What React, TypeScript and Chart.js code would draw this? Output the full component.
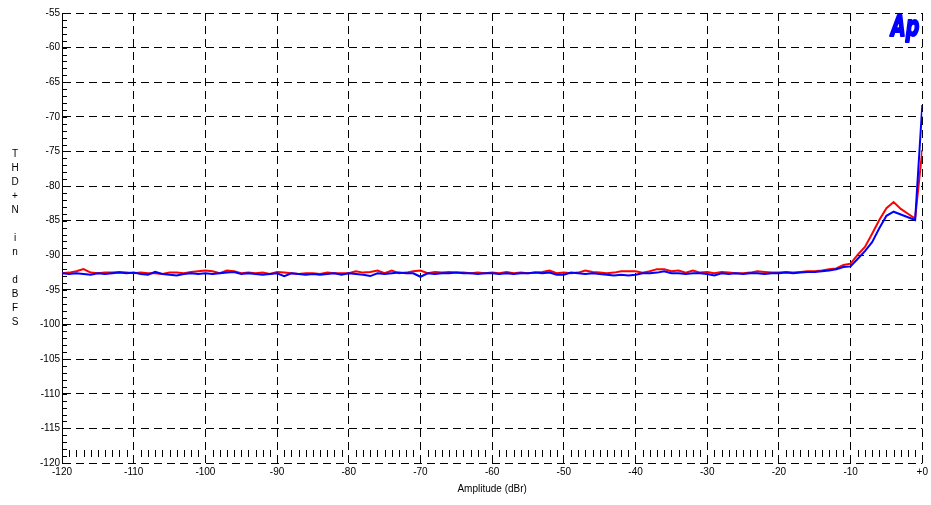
import React, { useEffect, useRef } from 'react';
import { Chart, registerables } from 'chart.js';

Chart.register(...registerables);

// Amplitude sweep (dBr)
const amplitude = [
  -120, -119, -118, -117, -116, -115, -114, -113, -112, -111,
  -110, -109, -108, -107, -106, -105, -104, -103, -102, -101,
  -100, -99, -98, -97, -96, -95, -94, -93, -92, -91,
  -90, -89, -88, -87, -86, -85, -84, -83, -82, -81,
  -80, -79, -78, -77, -76, -75, -74, -73, -72, -71,
  -70, -69, -68, -67, -66, -65, -64, -63, -62, -61,
  -60, -59, -58, -57, -56, -55, -54, -53, -52, -51,
  -50, -49, -48, -47, -46, -45, -44, -43, -42, -41,
  -40, -39, -38, -37, -36, -35, -34, -33, -32, -31,
  -30, -29, -28, -27, -26, -25, -24, -23, -22, -21,
  -20, -19, -18, -17, -16, -15, -14, -13, -12, -11,
  -10, -9, -8, -7, -6, -5, -4, -3, -2, -1,
  0,
];

// THD+N (dBFS), red channel
const redTHDN = [
  -92.6, -92.5, -92.3, -92.0, -92.5, -92.6, -92.5, -92.5, -92.4, -92.5,
  -92.6, -92.5, -92.6, -92.6, -92.7, -92.5, -92.5, -92.6, -92.4, -92.3,
  -92.2, -92.3, -92.6, -92.2, -92.3, -92.6, -92.5, -92.6, -92.5, -92.7,
  -92.4, -92.5, -92.6, -92.7, -92.6, -92.6, -92.7, -92.5, -92.6, -92.6,
  -92.6, -92.3, -92.5, -92.4, -92.2, -92.6, -92.2, -92.6, -92.5, -92.3,
  -92.2, -92.6, -92.4, -92.5, -92.4, -92.5, -92.5, -92.6, -92.5, -92.6,
  -92.5, -92.6, -92.4, -92.6, -92.5, -92.6, -92.5, -92.4, -92.2, -92.6,
  -92.5, -92.6, -92.5, -92.2, -92.4, -92.5, -92.6, -92.5, -92.3, -92.3,
  -92.3, -92.5, -92.3, -92.0, -92.0, -92.3, -92.2, -92.5, -92.2, -92.5,
  -92.4, -92.6, -92.4, -92.5, -92.6, -92.6, -92.5, -92.3, -92.4, -92.5,
  -92.5, -92.4, -92.5, -92.4, -92.3, -92.3, -92.2, -92.0, -91.9, -91.4,
  -91.2, -89.9, -88.8, -86.9, -84.9, -83.2, -82.3, -83.3, -84.0, -84.7,
  -74.8,
];

// THD+N (dBFS), blue channel
const blueTHDN = [
  -92.6, -92.7, -92.6, -92.7, -92.8, -92.6, -92.7, -92.6, -92.5, -92.6,
  -92.5, -92.7, -92.8, -92.4, -92.7, -92.8, -92.9, -92.7, -92.6, -92.7,
  -92.6, -92.7, -92.6, -92.5, -92.4, -92.7, -92.6, -92.7, -92.8, -92.7,
  -92.6, -93.0, -92.6, -92.7, -92.8, -92.7, -92.8, -92.7, -92.6, -92.8,
  -92.6, -92.7, -92.8, -93.0, -92.6, -92.7, -92.6, -92.5, -92.6, -92.6,
  -93.1, -92.6, -92.7, -92.6, -92.6, -92.5, -92.6, -92.6, -92.7, -92.6,
  -92.6, -92.7, -92.6, -92.7, -92.6, -92.6, -92.5, -92.6, -92.5, -92.8,
  -92.8, -92.5, -92.6, -92.7, -92.6, -92.7, -92.8, -92.9, -92.8, -92.9,
  -92.8, -92.6, -92.6, -92.5, -92.3, -92.6, -92.6, -92.7, -92.6, -92.6,
  -92.7, -92.9, -92.6, -92.7, -92.6, -92.7, -92.6, -92.6, -92.7, -92.6,
  -92.6, -92.5, -92.6, -92.5, -92.4, -92.4, -92.3, -92.2, -92.0, -91.7,
  -91.6, -90.5, -89.4, -88.1, -86.1, -84.3, -83.7, -84.1, -84.5, -84.9,
  -68.3,
];

const yTitleLetters = ['T', 'H', 'D', '+', 'N', '', 'i', 'n', '', 'd', 'B', 'F', 'S'];
const xTitle = 'Amplitude (dBr)';
const logoText = 'Ap';

const FONT = "'Liberation Sans Narrow', 'Liberation Sans', Arial, sans-serif";

const decor = {
  id: 'decor',
  beforeDatasetsDraw(chart: any) {
    const { ctx, chartArea: a, scales } = chart;
    const x = scales.x;
    const y = scales.y;
    ctx.save();
    ctx.strokeStyle = '#000';
    ctx.lineWidth = 1;
    ctx.beginPath();
    for (let v = y.min; v <= y.max; v++) {
      const py = Math.round(y.getPixelForValue(v)) + 0.5;
      ctx.moveTo(a.left, py);
      ctx.lineTo(a.left + 5, py);
    }
    for (let v = x.min + 1; v < x.max; v++) {
      if (v % 10 === 0) continue;
      const px = Math.round(x.getPixelForValue(v)) + 0.5;
      ctx.moveTo(px, a.bottom - 13);
      ctx.lineTo(px, a.bottom - 6);
    }
    ctx.stroke();
    ctx.restore();
  },
  afterDraw(chart: any) {
    const { ctx, chartArea: a } = chart;
    ctx.save();
    ctx.fillStyle = '#000';
    ctx.font = `10px ${FONT}`;
    ctx.textAlign = 'center';
    ctx.textBaseline = 'middle';
    const cy = (a.top + a.bottom) / 2;
    const mid = (yTitleLetters.length - 1) / 2;
    yTitleLetters.forEach((ch, i) => {
      if (ch) ctx.fillText(ch, 15, cy + (i - mid) * 14);
    });
    ctx.restore();

    ctx.save();
    ctx.fillStyle = '#0000ff';
    ctx.strokeStyle = '#0000ff';
    ctx.lineWidth = 2;
    ctx.lineJoin = 'round';
    ctx.font = `italic bold 28px 'DejaVu Sans', 'Liberation Sans', Arial, sans-serif`;
    ctx.textAlign = 'right';
    ctx.textBaseline = 'alphabetic';
    ctx.translate(a.right - 3, a.top + 23);
    ctx.scale(0.68, 1);
    ctx.fillText(logoText, 0, 0);
    ctx.strokeText(logoText, 0, 0);
    ctx.restore();
  },
};

export default function App() {
  const ref = useRef<HTMLCanvasElement>(null);
  useEffect(() => {
    document.body.style.margin = '0';
    const chart = new Chart(ref.current as HTMLCanvasElement, {
      type: 'line',
      data: {
        datasets: [
          {
            label: 'Blue',
            data: amplitude.map((x, i) => ({ x, y: blueTHDN[i] })),
            borderColor: '#0000ff',
            borderWidth: 2,
            pointRadius: 0,
            tension: 0,
            fill: false,
          },
          {
            label: 'Red',
            data: amplitude.map((x, i) => ({ x, y: redTHDN[i] })),
            borderColor: '#ff0000',
            borderWidth: 2,
            pointRadius: 0,
            tension: 0,
            fill: false,
          },
        ],
      },
      options: {
        responsive: false,
        animation: false,
        devicePixelRatio: 1,
        layout: { padding: { top: 13, right: 7, left: 0, bottom: 0 } },
        plugins: { legend: { display: false }, tooltip: { enabled: false } },
        scales: {
          x: {
            type: 'linear',
            min: -120,
            max: 0,
            ticks: {
              stepSize: 10,
              padding: 3,
              color: '#000',
              font: { family: FONT, size: 10 },
              maxRotation: 0,
              autoSkip: false,
              callback: (v: any) => (v === 0 ? '+0' : String(v)),
            },
            grid: { color: '#000', lineWidth: 1, drawTicks: false },
            border: { display: false, dash: [8, 5] },
            title: {
              display: true,
              text: xTitle,
              color: '#000',
              font: { family: FONT, size: 10 },
              padding: { top: 0, bottom: 10 },
            },
            afterFit: (s: any) => {
              s.height = 42;
            },
          },
          y: {
            type: 'linear',
            min: -120,
            max: -55,
            ticks: {
              stepSize: 5,
              padding: 2,
              color: '#000',
              font: { family: FONT, size: 10 },
              autoSkip: false,
            },
            grid: { color: '#000', lineWidth: 1, drawTicks: false },
            border: { display: true, color: '#000', width: 1, dash: [8, 5] },
            afterFit: (s: any) => {
              s.width = 62;
            },
          },
        },
      },
      plugins: [decor],
    } as any);
    return () => chart.destroy();
  }, []);
  return <canvas ref={ref} width={931} height={505} style={{ display: 'block' }} />;
}
